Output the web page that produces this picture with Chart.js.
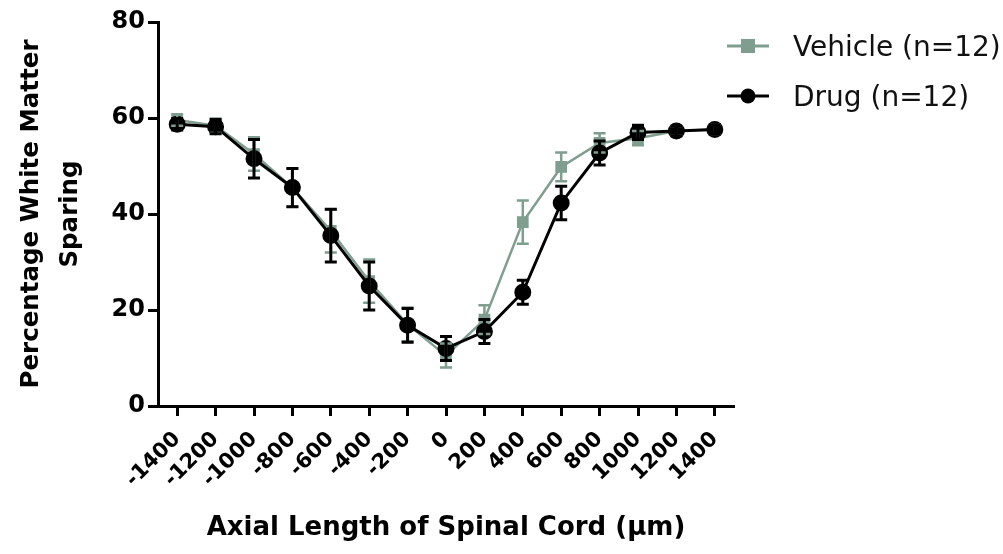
<!DOCTYPE html>
<html><head><meta charset="utf-8">
<script src="https://cdn.jsdelivr.net/npm/chart.js@4.4.0/dist/chart.umd.min.js"></script>
<style>
html,body{margin:0;padding:0;background:#fff;}
#wrap{position:relative;width:1003px;height:554px;}
#legend{position:absolute;left:726px;top:21px;font-family:"DejaVu Sans",sans-serif;font-size:28px;color:#111;}
.li{display:flex;align-items:center;height:50px;}
.li canvas{margin-right:23px;}
</style></head>
<body><div id="wrap"><canvas id="c" width="1003" height="554"></canvas>
<div id="legend"></div></div>
<script>
const categories = ["-1400","-1200","-1000","-800","-600","-400","-200","0","200","400","600","800","1000","1200","1400"];
const vehicleMean = [59.6,58.4,52.5,45.5,36.5,26,17,10.5,18,38.3,49.8,54.8,55.8,57.3,57.6];
const vehicleErr  = [1.2,1.5,3.5,4,4.5,4.5,3.5,2.5,3,4.5,3,2,1.5,1,1];
const drugMean    = [58.7,58.2,51.5,45.5,35.5,25,16.8,12,15.5,23.7,42.3,52.7,57,57.3,57.6];
const drugErr     = [1.2,1.5,4,4,5.5,5,3.5,2.5,2.5,2.5,3.5,2.5,1.5,1,1];
const yTicks = [0,20,40,60,80];
const seriesNames = ["Vehicle (n=12)","Drug (n=12)"];
const vehColor = "#7f9e8f", drugColor = "#000000";

const errorBars = {
  id:'errorBars',
  afterDatasetsDraw(chart){
    const ctx = chart.ctx, ys = chart.scales.y;
    const errs = [vehicleErr, drugErr];
    [0,1].forEach(di=>{
      const meta = chart.getDatasetMeta(di);
      const ds = chart.data.datasets[di];
      ctx.save();
      ctx.strokeStyle = di===0 ? vehColor : drugColor;
      ctx.lineWidth = di===0 ? 2.5 : 3;
      meta.data.forEach((pt,i)=>{
        const v = ds.data[i], e = errs[di][i];
        const yt = ys.getPixelForValue(v+e), yb = ys.getPixelForValue(v-e);
        const x = pt.x, cw = 6;
        ctx.beginPath();
        ctx.moveTo(x,yt); ctx.lineTo(x,yb);
        ctx.moveTo(x-cw,yt); ctx.lineTo(x+cw,yt);
        ctx.moveTo(x-cw,yb); ctx.lineTo(x+cw,yb);
        ctx.stroke();
      });
      ctx.restore();
    });
  }
};

const font = {family:'"DejaVu Sans", sans-serif', weight:'bold'};
new Chart(document.getElementById('c'),{
  type:'line',
  data:{labels:categories,datasets:[
    {label:seriesNames[0],data:vehicleMean,borderColor:vehColor,backgroundColor:vehColor,borderWidth:2.5,pointStyle:'rect',pointRadius:6.5,pointHoverRadius:6.5,order:1,tension:0},
    {label:seriesNames[1],data:drugMean,borderColor:drugColor,backgroundColor:drugColor,borderWidth:3,pointStyle:'circle',pointRadius:7,pointHoverRadius:7,order:0,tension:0}
  ]},
  options:{
    responsive:false,animation:false,
    layout:{padding:{left:8,right:269,top:22,bottom:6}},
    plugins:{legend:{display:false},tooltip:{enabled:false}},
    scales:{
      x:{type:'category',offset:true,
        grid:{display:true,drawOnChartArea:false,drawTicks:true,tickLength:10,tickWidth:3,color:'#000'},
        border:{display:true,color:'#000',width:3},
        ticks:{color:'#000',font:{...font,size:21},maxRotation:45,minRotation:45,padding:11,autoSkip:false},
        title:{display:true,text:'Axial Length of Spinal Cord (\u03bcm)',color:'#000',font:{...font,size:26},padding:{top:6,bottom:4}},
        afterFit(s){s.height=142;}
      },
      y:{min:0,max:80,
        afterBuildTicks(s){s.ticks=yTicks.map(v=>({value:v}));},
        grid:{display:true,drawOnChartArea:false,drawTicks:true,tickLength:10,tickWidth:3,color:'#000'},
        border:{display:true,color:'#000',width:3},
        ticks:{color:'#000',font:{...font,size:24},padding:3},
        title:{display:true,text:['Percentage White Matter','Sparing'],color:'#000',font:{...font,size:24.5,lineHeight:1.6},padding:{bottom:2}},
        afterFit(s){s.width=150;}
      }
    }
  },
  plugins:[errorBars]
});

const lg = document.getElementById('legend');
[[seriesNames[0],vehColor,'rect'],[seriesNames[1],drugColor,'circle']].forEach(([t,c,s])=>{
  const d=document.createElement('div');d.className='li';
  const cv=document.createElement('canvas');cv.width=44;cv.height=20;
  const x=cv.getContext('2d');x.strokeStyle=c;x.fillStyle=c;x.lineWidth=3;
  x.beginPath();x.moveTo(1,10);x.lineTo(43,10);x.stroke();
  if(s==='rect'){x.fillRect(15,3,14,14);}else{x.beginPath();x.arc(22,10,7.5,0,Math.PI*2);x.fill();}
  d.appendChild(cv);
  const sp=document.createElement('span');sp.textContent=t;d.appendChild(sp);
  lg.appendChild(d);
});
</script></body></html>
